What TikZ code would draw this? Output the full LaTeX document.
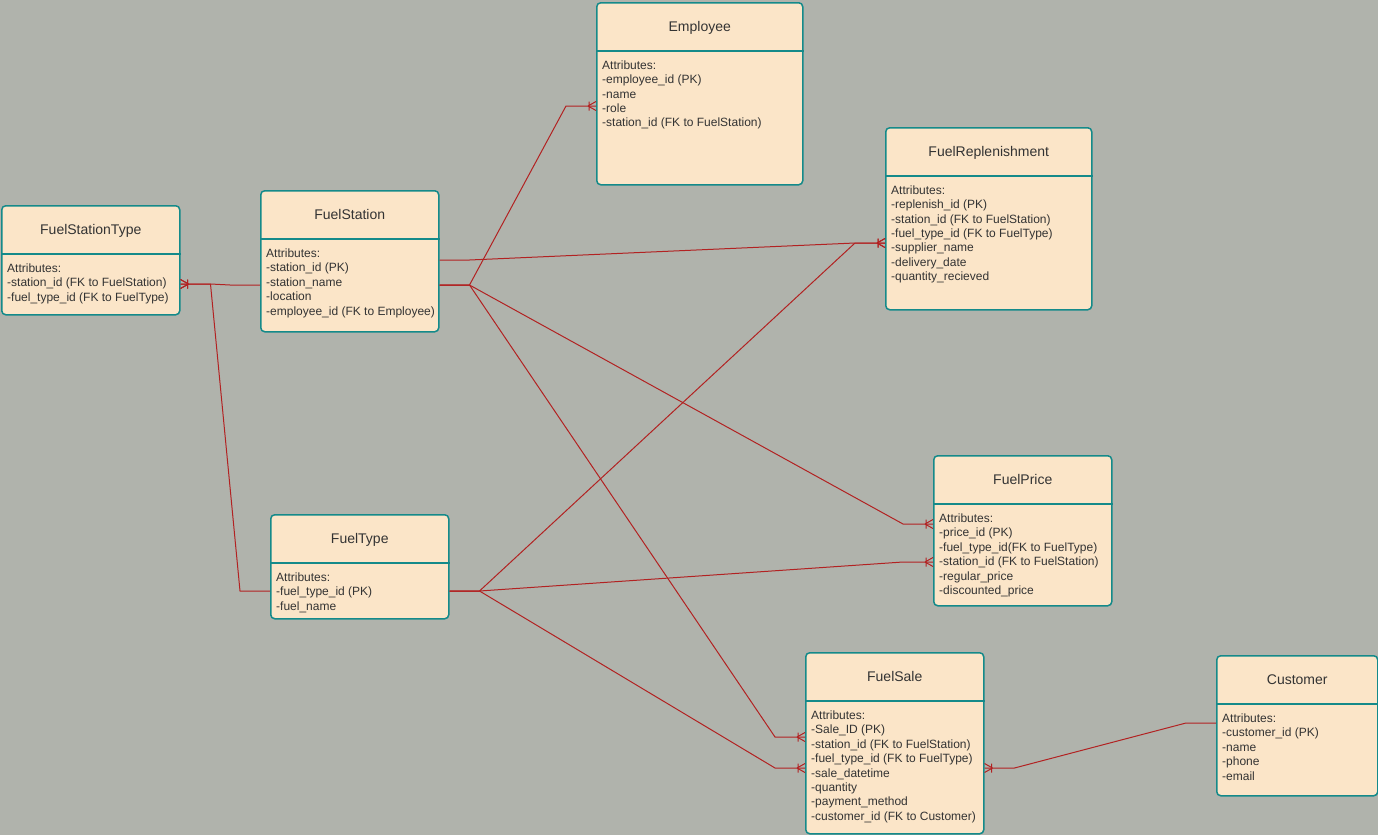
\documentclass[tikz,border=0pt]{standalone}
\usepackage{fontspec}
\setmainfont{Liberation Sans}
\usepackage{tikz}
\usepackage{xcolor}
\usetikzlibrary{arrows.meta, decorations.markings, positioning, calc}

\definecolor{bgGray}{RGB}{176,179,172}
\definecolor{boxFill}{RGB}{251,229,200}
\definecolor{boxLine}{RGB}{20,138,138}
\definecolor{relRed}{RGB}{178,34,34}
\definecolor{txtGray}{RGB}{51,51,51}

\begin{document}
\begin{tikzpicture}[
    x=1pt, y=-1pt,
    entity/.style={draw=boxLine, line width=1.5pt, rounded corners=4pt, fill=boxFill, anchor=north west, inner sep=0pt},
    divider/.style={draw=boxLine, line width=1.5pt},
    title/.style={font=\fontsize{14}{16.8}\selectfont, text=txtGray, inner sep=0pt, text height=10pt, text depth=3pt},
    attrs/.style={font=\fontsize{12}{14.35}\selectfont, text=txtGray, align=left, anchor=north west, inner sep=0pt},
    rel/.style={draw=relRed, line width=1pt, postaction={decorate},
        decoration={markings, mark=at position 1 with {
            \draw[relRed, line width=1pt] (-8pt,0pt) -- (0pt,4.5pt) (-8pt,0pt) -- (0pt,-4.5pt)
                (-7pt,-4.5pt) -- (-7pt,4.5pt);}}}
]
    \useasboundingbox (0,0) rectangle (1378,835);
    \fill[bgGray] (0,0) rectangle (1378,835);

    % Entity Boxes
    \node[entity, minimum width=178, minimum height=109] (fst) at (1,205) {};
    \node[entity, minimum width=178, minimum height=141] (fs) at (260,190) {};
    \node[entity, minimum width=206, minimum height=182] (emp) at (596,2) {};
    \node[entity, minimum width=206, minimum height=182] (repl) at (885,127) {};
    \node[entity, minimum width=178, minimum height=150] (price) at (933,455) {};
    \node[entity, minimum width=178, minimum height=104] (ftype) at (270,514) {};
    \node[entity, minimum width=178, minimum height=181] (sale) at (805,652) {};
    \node[entity, minimum width=161, minimum height=140] (cust) at (1216,655) {};

    % Header Lines
    \foreach \e in {fst, fs, emp, repl, price, ftype, sale, cust}
        \draw[divider] ([yshift=-49]\e.north west) -- ([yshift=-49]\e.north east);

    % Titles
    \node[title] (fst title) at ([yshift=-25.5]fst.north) {FuelStationType};
    \node[title] (fs title) at ([yshift=-25.5]fs.north) {FuelStation};
    \node[title] (emp title) at ([yshift=-25.5]emp.north) {Employee};
    \node[title] (repl title) at ([yshift=-25.5]repl.north) {FuelReplenishment};
    \node[title] (price title) at ([yshift=-25.5]price.north) {FuelPrice};
    \node[title] (ftype title) at ([yshift=-25.5]ftype.north) {FuelType};
    \node[title] (sale title) at ([yshift=-25.5]sale.north) {FuelSale};
    \node[title] (cust title) at ([yshift=-25.5]cust.north) {Customer};

    % Attributes
    \node[attrs] (fst attrs) at ([xshift=6, yshift=-58.7]fst.north west) {Attributes:\\-station\_id (FK to FuelStation)\\-fuel\_type\_id (FK to FuelType)};
    \node[attrs] (fs attrs) at ([xshift=6, yshift=-58.7]fs.north west) {Attributes:\\-station\_id (PK)\\-station\_name\\-location\\-employee\_id (FK to Employee)};
    \node[attrs] (emp attrs) at ([xshift=6, yshift=-58.7]emp.north west) {Attributes:\\-employee\_id (PK)\\-name\\-role\\-station\_id (FK to FuelStation)};
    \node[attrs] (repl attrs) at ([xshift=6, yshift=-58.7]repl.north west) {Attributes:\\-replenish\_id (PK)\\-station\_id (FK to FuelStation)\\-fuel\_type\_id (FK to FuelType)\\-supplier\_name\\-delivery\_date\\-quantity\_recieved};
    \node[attrs] (price attrs) at ([xshift=6, yshift=-58.7]price.north west) {Attributes:\\-price\_id (PK)\\-fuel\_type\_id(FK to FuelType)\\-station\_id (FK to FuelStation)\\-regular\_price\\-discounted\_price};
    \node[attrs] (ftype attrs) at ([xshift=6, yshift=-58.7]ftype.north west) {Attributes:\\-fuel\_type\_id (PK)\\-fuel\_name};
    \node[attrs] (sale attrs) at ([xshift=6, yshift=-58.7]sale.north west) {Attributes:\\-Sale\_ID (PK)\\-station\_id (FK to FuelStation)\\-fuel\_type\_id (FK to FuelType)\\-sale\_datetime\\-quantity\\-payment\_method\\-customer\_id (FK to Customer)};
    \node[attrs] (cust attrs) at ([xshift=6, yshift=-58.7]cust.north west) {Attributes:\\-customer\_id (PK)\\-name\\-phone\\-email};

    % Relationships
    \draw[rel] ([yshift=-95]fs.north west) -- ++(-30,0) -- ([xshift=30, yshift=-79]fst.north east) -- ([yshift=-79]fst.north east);
    \draw[rel] ([yshift=-77]ftype.north west) -- ++(-30,0) -- ([xshift=30, yshift=-79]fst.north east) -- ([yshift=-79]fst.north east);
    \draw[rel] ([yshift=-95]fs.north east) -- ++(30,0) -- ([xshift=-30, yshift=-104]emp.north west) -- ([yshift=-104]emp.north west);
    \draw[rel] ([yshift=-70]fs.north east) -- ++(30,0) -- ([xshift=-30, yshift=-116]repl.north west) -- ([yshift=-116]repl.north west);
    \draw[rel] ([yshift=-95]fs.north east) -- ++(30,0) -- ([xshift=-30, yshift=-69]price.north west) -- ([yshift=-69]price.north west);
    \draw[rel] ([yshift=-95]fs.north east) -- ++(30,0) -- ([xshift=-30, yshift=-85]sale.north west) -- ([yshift=-85]sale.north west);
    \draw[rel] ([yshift=-77]ftype.north east) -- ++(30,0) -- ([xshift=-30, yshift=-116]repl.north west) -- ([yshift=-116]repl.north west);
    \draw[rel] ([yshift=-77]ftype.north east) -- ++(30,0) -- ([xshift=-30, yshift=-107]price.north west) -- ([yshift=-107]price.north west);
    \draw[rel] ([yshift=-77]ftype.north east) -- ++(30,0) -- ([xshift=-30, yshift=-116]sale.north west) -- ([yshift=-116]sale.north west);
    \draw[rel] ([yshift=-68]cust.north west) -- ++(-30,0) -- ([xshift=30, yshift=-116]sale.north east) -- ([yshift=-116]sale.north east);
\end{tikzpicture}
\end{document}
